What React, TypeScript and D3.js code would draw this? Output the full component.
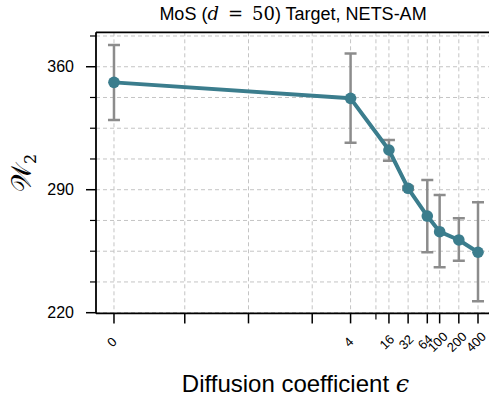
import React from "react";
import * as d3 from "d3";

const epsilons = [0, 4, 16, 32, 64, 100, 200, 400];
const w2Mean = [351.1, 342.0, 312.6, 290.8, 275.0, 266.1, 261.4, 254.4];
const w2Low = [329.7, 316.8, 306.5, 289.8, 254.4, 245.8, 249.6, 226.5];
const w2High = [372.4, 367.6, 318.3, 291.8, 295.5, 287.0, 273.7, 282.8];

const xTickLabels = ["0", "4", "16", "32", "64", "100", "200", "400"];
const xUnlabeledMajor = [0.01, 0.1, 1];
const xMinor = [10];
const yMajor = [220, 290, 360];
const yMinor = [237.5, 255, 272.5, 307.5, 325, 342.5, 377.5];

const W = 489;
const H = 402;
const left = 96;
const right = 490;
const top = 32.3;
const bottom = 313.4;

const LINTHRESH = 0.01;
const LINSCALE = 1 / (1 - 1 / 10);
function symlog(v: number) {
  const a = Math.abs(v);
  if (a <= LINTHRESH) return v * LINSCALE;
  return Math.sign(v) * LINTHRESH * (LINSCALE + Math.log10(a / LINTHRESH));
}

const xDomain = [-0.00254, 617];
const yDomain = [219.6, 379.6];

export default function App() {
  const xs = d3.scaleLinear().domain(xDomain.map(symlog)).range([left, right]);
  const x = (v: number) => xs(symlog(v));
  const y = d3.scaleLinear().domain(yDomain).range([bottom, top]);

  const color = "#3b7d8d";
  const errColor = "#8c8c8c";
  const gridColor = "#c4c4c4";

  const line = d3
    .line<number>()
    .x((_, i) => x(epsilons[i]))
    .y((d) => y(d));

  const xGridVals = [...epsilons, ...xUnlabeledMajor, ...xMinor];
  const yGridVals = [...yMajor, ...yMinor];

  return (
    <svg
      width={W}
      height={H}
      style={{ position: "absolute", left: 0, top: 0, background: "#fff" }}
      fontFamily="'Liberation Sans', Arial, sans-serif"
    >
      <defs>
        <clipPath id="plot">
          <rect x={left} y={top} width={right - left} height={bottom - top} />
        </clipPath>
      </defs>
      <g clipPath="url(#plot)">
        {xGridVals.map((v, i) => (
          <line
            key={"gx" + i}
            x1={x(v)}
            x2={x(v)}
            y1={top}
            y2={bottom}
            stroke={gridColor}
            strokeWidth={1}
            strokeDasharray="4,3"
          />
        ))}
        {yGridVals.map((v, i) => (
          <line
            key={"gy" + i}
            x1={left}
            x2={right}
            y1={y(v)}
            y2={y(v)}
            stroke={gridColor}
            strokeWidth={1}
            strokeDasharray="4,3"
          />
        ))}
        {epsilons.map((e, i) => (
          <g key={"eb" + i} stroke={errColor} strokeWidth={2.5}>
            <line x1={x(e)} x2={x(e)} y1={y(w2Low[i])} y2={y(w2High[i])} />
            <line x1={x(e) - 6} x2={x(e) + 6} y1={y(w2Low[i])} y2={y(w2Low[i])} />
            <line x1={x(e) - 6} x2={x(e) + 6} y1={y(w2High[i])} y2={y(w2High[i])} />
          </g>
        ))}
        <path d={line(w2Mean) || ""} fill="none" stroke={color} strokeWidth={4} strokeLinejoin="round" />
        {epsilons.map((e, i) => (
          <circle key={"pt" + i} cx={x(e)} cy={y(w2Mean[i])} r={5.8} fill={color} />
        ))}
      </g>
      {/* spines */}
      <g stroke="#000" strokeWidth={1.8} fill="none">
        <line x1={left} x2={left} y1={top} y2={bottom} />
        <line x1={left} x2={right} y1={bottom} y2={bottom} />
        <line x1={left} x2={right} y1={top} y2={top} />
        <line x1={right} x2={right} y1={top} y2={bottom} />
      </g>
      {/* x ticks */}
      {[...epsilons, ...xUnlabeledMajor].map((v, i) => (
        <line key={"xt" + i} x1={x(v)} x2={x(v)} y1={bottom} y2={bottom + 10} stroke="#000" strokeWidth={1.5} />
      ))}
      {xMinor.map((v, i) => (
        <line key={"xm" + i} x1={x(v)} x2={x(v)} y1={bottom} y2={bottom + 6} stroke="#000" strokeWidth={1.2} />
      ))}
      {epsilons.map((v, i) => (
        <text
          key={"xl" + i}
          transform={`translate(${x(v) - 2},342) rotate(-45)`}
          textAnchor="middle"
          dominantBaseline="central"
          fontSize={13}
          fill="#000"
        >
          {xTickLabels[i]}
        </text>
      ))}
      {/* y ticks */}
      {yMajor.map((v, i) => (
        <g key={"yt" + i}>
          <line x1={left - 10} x2={left} y1={y(v)} y2={y(v)} stroke="#000" strokeWidth={1.5} />
          <text x={left - 22} y={y(v)} textAnchor="end" dominantBaseline="central" fontSize={16} fill="#000">
            {v}
          </text>
        </g>
      ))}
      {yMinor.map((v, i) => (
        <line key={"ym" + i} x1={left - 6} x2={left} y1={y(v)} y2={y(v)} stroke="#000" strokeWidth={1.2} />
      ))}
      {/* labels */}
      <text x={295.5} y={392} textAnchor="middle" fontSize={24} fill="#000">
        Diffusion coefficient <tspan fontFamily="'DejaVu Serif', serif" fontStyle="italic">ϵ</tspan>
      </text>
      <text transform={`translate(31,${(top + bottom) / 2}) rotate(-90)`} textAnchor="middle" fontSize={27} fill="#000">
        <tspan fontFamily="'DejaVu Sans', serif">𝒲</tspan>
        <tspan fontSize={16} dy={5} fontFamily="'DejaVu Serif', serif">2</tspan>
      </text>
      <text x={293} y={19.5} textAnchor="middle" fontSize={18} fill="#000">
        MoS (<tspan fontFamily="'DejaVu Serif', serif" fontStyle="italic">d</tspan>
        <tspan fontFamily="'DejaVu Serif', serif">{"\u2002=\u200250"}</tspan>) Target, NETS-AM
      </text>
    </svg>
  );
}
